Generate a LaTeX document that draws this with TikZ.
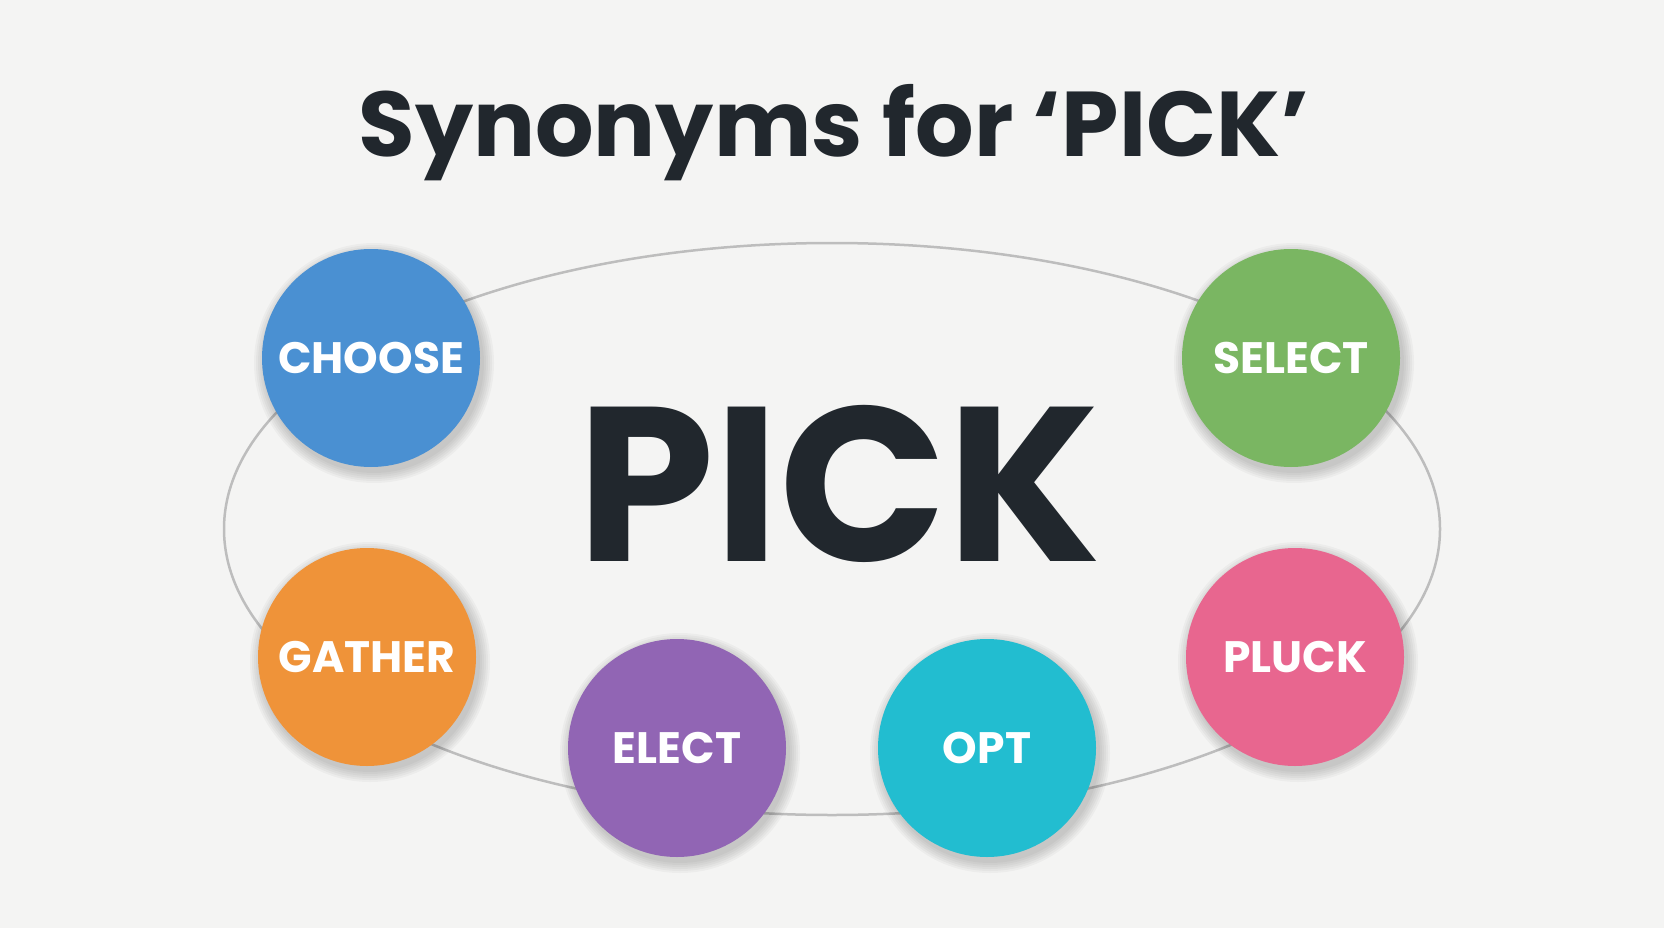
\documentclass[tikz,border=0pt]{standalone}
\usepackage{fontspec}
\setmainfont{Poppins}
\usetikzlibrary{shapes.geometric}
\definecolor{bg}{HTML}{F4F4F3}
\definecolor{ink}{HTML}{21272D}
\definecolor{ring}{HTML}{BDBDBD}
\definecolor{cblue}{HTML}{4A90D2}
\definecolor{cgreen}{HTML}{7AB662}
\definecolor{corange}{HTML}{EF9339}
\definecolor{cpurple}{HTML}{9165B4}
\definecolor{ccyan}{HTML}{22BDD0}
\definecolor{cpink}{HTML}{E8668F}
\tikzset{
  word/.style={circle, minimum size=218pt, inner sep=0pt, fill=#1, text=white,
    font=\fontsize{44}{44}\bfseries\selectfont},
  softshadow/.style={fill=black, fill opacity=0.03},
  ringline/.style={draw=ring, line width=2.5pt}
}
\newcommand{\softshade}[2]{%
  \foreach \r in {110,112,114,116,118,120}{
    \fill[softshadow] (#1+3,#2+5) circle (\r pt);
  }}
\begin{document}
\begin{tikzpicture}[x=1pt,y=-1pt]
\fill[bg] (0,0) rectangle (1664,928);
\useasboundingbox (0,0) rectangle (1664,928);
\node[text=ink, font=\fontsize{92}{92}\bfseries\selectfont, anchor=base] (title) at (834,157) {Synonyms for ‘PICK’};
\node[ringline, ellipse, minimum width=1216pt, minimum height=572pt, inner sep=0pt] (ring) at (832,529) {};
\node[text=ink, font=\fontsize{220}{220}\bfseries\selectfont] (pick) at (839,484) {PICK};
\softshade{371}{358}
\softshade{1291}{358}
\softshade{367}{657}
\softshade{1295}{657}
\softshade{677}{748}
\softshade{987}{748}
\node[word=cblue] (choose) at (371,358) {CHOOSE};
\node[word=cgreen] (select) at (1291,358) {SELECT};
\node[word=corange] (gather) at (367,657) {GATHER};
\node[word=cpink] (pluck) at (1295,657) {PLUCK};
\node[word=cpurple] (elect) at (677,748) {ELECT};
\node[word=ccyan] (opt) at (987,748) {OPT};
\end{tikzpicture}
\end{document}
